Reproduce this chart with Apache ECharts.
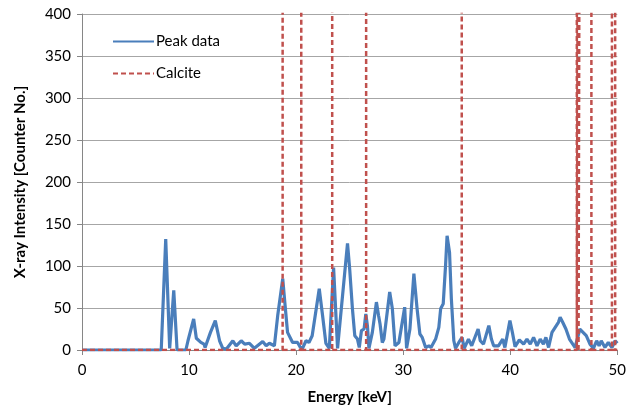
<!DOCTYPE html>
<html>
<head>
<meta charset="utf-8">
<script src="https://cdn.jsdelivr.net/npm/echarts@6/dist/echarts.min.js"></script>
<style>html,body{margin:0;padding:0;background:#fff;}#c{width:629px;height:410px;}</style>
</head>
<body>
<div id="c"></div>
<script>
const peakEnergy = [0.1,7.4,7.82,8.19,8.57,8.88,9.7,9.9,10.43,10.68,11.1,11.4,11.5,12.0,12.45,12.85,13.15,13.47,14.09,14.4,14.87,15.2,15.64,16.1,16.88,17.2,17.5,17.97,18.28,18.75,18.97,19.2,19.67,20.14,20.4,20.6,20.92,21.2,21.5,22.16,22.47,22.78,23.1,23.5,23.87,24.0,24.8,25.0,25.26,25.48,25.73,25.9,26.1,26.35,26.51,26.66,26.8,27.12,27.5,27.7,27.84,28.05,28.2,28.74,28.99,29.24,29.6,30.14,30.32,30.63,31.0,31.3,31.56,31.78,32.1,32.4,32.6,33.03,33.33,33.5,33.74,33.96,34.1,34.33,34.5,34.73,34.89,35.2,35.5,35.7,36.1,36.4,37.0,37.2,37.5,38.0,38.24,38.45,38.9,39.3,39.5,39.97,40.2,40.45,40.85,41.25,41.56,41.87,42.18,42.5,42.8,43.1,43.33,43.58,43.9,44.2,44.5,44.66,44.9,45.2,45.53,45.84,46.06,46.5,46.8,47.1,47.45,47.77,48.07,48.3,48.5,48.85,49.16,49.5,49.8,50.0];
const peakIntensity = [0,0,132,2,71,0,0,11,37,14,9,7,3,21,35,11,2,1,11,5,11,7,8,2,10,5,8,5,41,85,53,21,9,9,3,2,11,9,17,73,41,8,2,98,2,2,127,97,49,17,13,3,23,25,43,29,2,21,57,41,31,9,13,69,49,5,9,51,2,25,91,49,19,15,3,5,3,13,27,49,55,101,136,116,61,11,2,9,15,2,13,5,25,11,7,29,13,5,5,13,3,35,21,4,12,7,13,7,15,5,13,7,15,3,21,27,33,39,33,25,13,7,3,25,21,17,7,2,11,5,11,3,9,3,11,8];
const calciteEnergy = [18.74,20.48,23.37,26.54,35.47,46.22,46.38,46.55,47.58,49.5,49.8];
const calciteHeight = [1000,1000,1000,1000,1000,1000,1000,1000,1000,1000,1000];
const xTicks = [0,10,20,30,40,50];
const yTicks = [0,50,100,150,200,250,300,350,400];

const peakData = peakEnergy.map((e,i)=>[e,peakIntensity[i]]);
// baseline runs along 0; each stick rises once, then the path breaks so dashes are not overdrawn
const calciteData = [[0,0]];
calciteEnergy.forEach((e,i)=>{calciteData.push([e,0],[e,calciteHeight[i]],[e,'-'],[e,0]);});
calciteData.push([50,0]);

const font = 'Lato, "Open Sans", sans-serif';
const chart = echarts.init(document.getElementById('c'), null, {renderer:'canvas'});
chart.setOption({
  animation:false,
  backgroundColor:'#fff',
  grid:{left:82,right:9,top:14,bottom:60,containLabel:false},
  legend:{
    orient:'vertical', left:112, top:34, padding:0, itemWidth:41, itemHeight:14, itemGap:17,
    textStyle:{fontFamily:font,fontSize:15,color:'#000',padding:[0,0,0,-3]},
    data:[{name:'Peak data',itemStyle:{opacity:0}},{name:'Calcite',itemStyle:{opacity:0}}]
  },
  xAxis:{
    type:'value', min:xTicks[0], max:xTicks[xTicks.length-1], interval:10,
    name:'Energy [keV]', nameLocation:'middle', nameGap:40,
    nameTextStyle:{fontFamily:font,fontSize:15,fontWeight:'bold',color:'#000'},
    axisLine:{lineStyle:{color:'#868686',width:1}},
    axisTick:{show:true,length:5,lineStyle:{color:'#868686'}},
    axisLabel:{fontFamily:font,fontSize:15,color:'#000',margin:13},
    splitLine:{show:false}
  },
  yAxis:{
    type:'value', min:yTicks[0], max:yTicks[yTicks.length-1], interval:50,
    name:'X-ray Intensity [Counter No.]', nameLocation:'middle', nameGap:54,
    nameTextStyle:{fontFamily:font,fontSize:15,fontWeight:'bold',color:'#000'},
    axisLine:{show:true,lineStyle:{color:'#868686',width:1}},
    axisTick:{show:true,length:5,lineStyle:{color:'#868686'}},
    axisLabel:{fontFamily:font,fontSize:15,color:'#000',margin:11},
    splitLine:{show:true,lineStyle:{color:'#A6A6A6',width:1}}
  },
  series:[
    {name:'Peak data',type:'line',data:peakData,showSymbol:false,symbol:'none',
     lineStyle:{color:'#4A7EBB',width:3.2},itemStyle:{color:'#4A7EBB'},clip:true,z:2},
    {name:'Calcite',type:'line',data:calciteData,showSymbol:false,symbol:'none',connectNulls:false,
     lineStyle:{color:'#C0504D',width:2.5,type:[5,3]},itemStyle:{color:'#C0504D'},clip:true,z:3}
  ]
});
</script>
</body>
</html>
